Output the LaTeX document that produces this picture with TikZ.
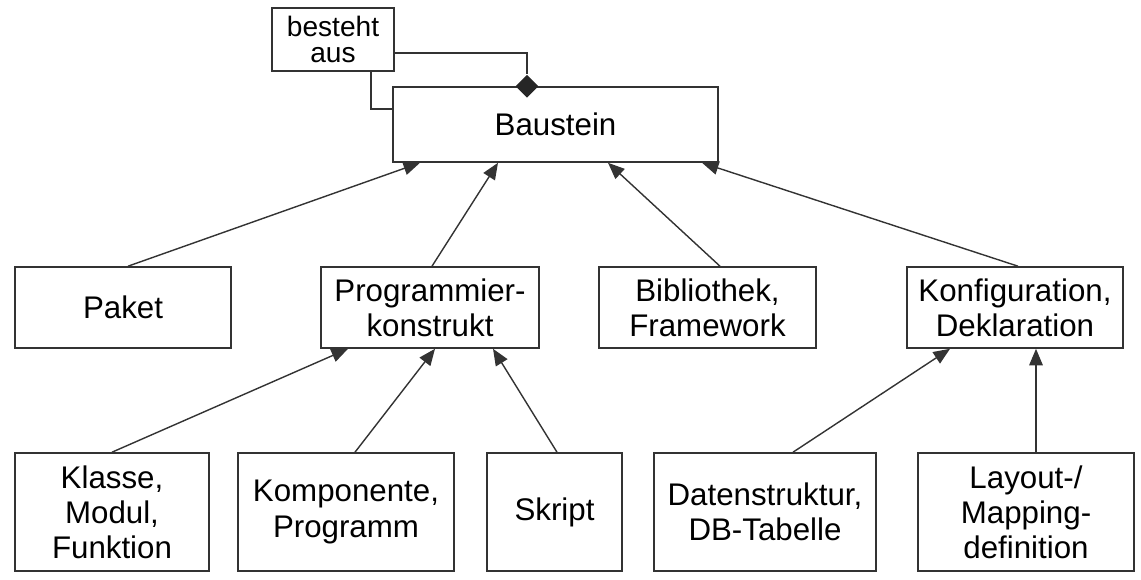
\documentclass[tikz,border=0pt]{standalone}
\usepackage{fontspec}
\setmainfont{Liberation Sans}
\usepackage{tikz}
\usetikzlibrary{arrows.meta,shapes.geometric}

\begin{document}
\begin{tikzpicture}[>={Triangle[length=0.33cm,width=0.27cm]},
			box/.style={draw=black!80,line width=0.9pt,align=center,inner sep=0pt,
				font=\fontsize{17.8}{20}\selectfont},
			wide/.style={minimum width=4.32cm},
			row2/.style={minimum height=1.62cm},
			row3/.style={minimum height=2.36cm},
			link/.style={->,draw=black!80,line width=0.8pt},
			]
			\useasboundingbox (0,0) rectangle (22.82,11.6);
			
			% Baustein mit Komposition
			\node[box,minimum width=6.5cm,minimum height=1.5cm] (baustein) at (11.11,9.11) {Baustein};
			\node[box,minimum width=2.44cm,minimum height=1.26cm,
				font=\fontsize{16}{15}\selectfont] (besteht) at (6.66,10.81) {besteht\\aus};
			\node[diamond,fill=black!85,inner sep=0pt,minimum width=0.46cm,minimum height=0.46cm]
				(raute) at ([xshift=-0.57cm]baustein.north) {};
			\draw[line width=0.8pt,black!80] ([yshift=-0.27cm]besteht.east) -| (raute.north);
			\draw[line width=0.8pt,black!80] ([xshift=0.76cm]besteht.south) |- ([yshift=0.31cm]baustein.west);
			
			% zweite Ebene
			\node[box,wide,row2] (paket) at (2.46,5.45) {Paket};
			\node[box,wide,row2,minimum width=4.36cm] (prog) at (8.6,5.45) {Programmier-\\konstrukt};
			\node[box,wide,row2,minimum width=4.34cm] (biblio) at (14.15,5.45) {Bibliothek,\\Framework};
			\node[box,wide,row2] (konfig) at (20.3,5.45) {Konfiguration,\\Deklaration};
			
			% dritte Ebene
			\node[box,row3,minimum width=3.88cm] (klasse) at (2.24,1.36) {Klasse,\\Modul,\\Funktion};
			\node[box,wide,row3] (kompo) at (6.92,1.36) {Komponente,\\Programm};
			\node[box,row3,minimum width=2.7cm] (skript) at (11.09,1.36) {Skript};
			\node[box,row3,minimum width=4.44cm] (daten) at (15.3,1.36) {Datenstruktur,\\DB-Tabelle};
			\node[box,wide,row3] (layout) at (20.52,1.36) {Layout-/\\Mapping-\\definition};
			
			% Generalisierungen
			\draw[link] ([xshift=0.1cm]paket.north) -- ([xshift=-2.71cm]baustein.south);
			\draw[link] ([xshift=0.04cm]prog.north) -- ([xshift=-1.15cm]baustein.south);
			\draw[link] ([xshift=0.25cm]biblio.north) -- ([xshift=1.05cm]baustein.south);
			\draw[link] ([xshift=0.06cm]konfig.north) -- ([xshift=2.93cm]baustein.south);
			
			\draw[link] (klasse.north) -- ([xshift=-1.64cm]prog.south);
			\draw[link] ([xshift=0.18cm]kompo.north) -- ([xshift=0.1cm]prog.south);
			\draw[link] ([xshift=0.05cm]skript.north) -- ([xshift=1.26cm]prog.south);
			\draw[link] ([xshift=0.56cm]daten.north) -- ([xshift=-1.3cm]konfig.south);
			\draw[link] ([xshift=0.2cm]layout.north) -- ([xshift=0.42cm]konfig.south);
		\end{tikzpicture}
\end{document}
